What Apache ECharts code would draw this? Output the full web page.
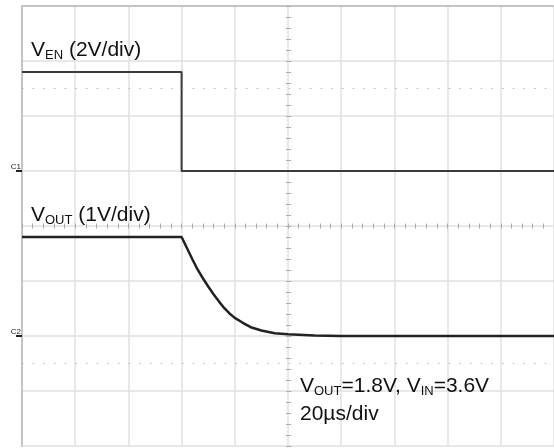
<!DOCTYPE html>
<html>
<head>
<meta charset="utf-8">
<script src="https://cdn.jsdelivr.net/npm/echarts@6/dist/echarts.min.js"></script>
<style>
  html, body { margin: 0; padding: 0; background: #fff; }
  #main { width: 554px; height: 448px; }
</style>
</head>
<body>
<div id="main"></div>
<script>
// time in us (20us/div), 10 divisions
const timeMin = 0
const timeMax = 200
const timeStep = 20

// VEN trace (channel 1, 2V/div)
const venTime = [0, 60, 60, 200]
const venVolt = [3.6, 3.6, 0, 0]

// VOUT trace (channel 2, 1V/div)
const voutTime = [0, 60, 62, 64, 66, 68, 70, 72, 74, 76, 78, 80, 83, 86, 90, 95, 100, 110, 120, 200]
const voutVolt = [1.8, 1.8, 1.6, 1.4, 1.21, 1.05, 0.9, 0.76, 0.63, 0.51, 0.41, 0.33, 0.24, 0.16, 0.1, 0.05, 0.03, 0.01, 0, 0]

// channel scales: C1 ground at 5 div from bottom, C2 ground at 2 div
const ch1Min = -10, ch1Max = 6, ch1Step = 2
const ch2Min = -2, ch2Max = 6, ch2Step = 1

// dotted reference rows (in C1 volts)
const dottedRows = [3, -7]
// channel markers (in C1 volts)
const markerValues = [0, -6]
const markerNames = ['C1', 'C2']

let myChart = echarts.init(document.getElementById('main'), null, { renderer: 'canvas' })

const gridColor = '#e0e0e0'
const tickColor = '#a8a8a8'

function pairs (xs, ys) {
  return xs.map(function (x, i) { return [x, ys[i]] })
}

function tickAxisX (inside) {
  return {
    type: 'value', min: timeMin, max: timeMax, interval: timeStep,
    position: 'bottom', offset: -220,
    axisLine: { show: false, onZero: false },
    axisTick: { show: true, inside: inside, length: 2.5, lineStyle: { color: tickColor, width: 1 } },
    minorTick: { show: true, splitNumber: 5, length: 2.5, lineStyle: { color: tickColor, width: 1 } },
    axisLabel: { show: false },
    splitLine: { show: false }
  }
}

function tickAxisY (inside) {
  return {
    type: 'value', min: ch1Min, max: ch1Max, interval: ch1Step,
    position: 'left', offset: -266.67,
    axisLine: { show: false, onZero: false },
    axisTick: { show: true, inside: inside, length: 2.5, lineStyle: { color: tickColor, width: 1 } },
    minorTick: { show: true, splitNumber: 5, length: 2.5, lineStyle: { color: tickColor, width: 1 } },
    axisLabel: { show: false },
    splitLine: { show: false }
  }
}

const fontFam = 'Liberation Sans, Arial, sans-serif'
const textRich = {
  v: { fontFamily: fontFam, fontSize: 21, fontWeight: 'normal', lineHeight: 24, color: '#111' },
  s: { fontFamily: fontFam, fontSize: 13, fontWeight: 'normal', lineHeight: 18, color: '#111', verticalAlign: 'bottom' }
}

let option = {
  animation: false,
  backgroundColor: '#fff',
  title: [
    {
      left: 31, top: 38, padding: 0,
      text: '{v|V}{s|EN}{v| (2V/div)}',
      textStyle: { fontWeight: 'normal', rich: textRich }
    },
    {
      left: 31, top: 203, padding: 0,
      text: '{v|V}{s|OUT}{v| (1V/div)}',
      textStyle: { fontWeight: 'normal', rich: textRich }
    },
    {
      left: 300, top: 374, padding: 0,
      text: '{v|V}{s|OUT}{v|=1.8V, V}{s|IN}{v|=3.6V}',
      textStyle: { fontWeight: 'normal', rich: textRich }
    },
    {
      left: 300, top: 402, padding: 0,
      text: '{v|20µs/div}',
      textStyle: { fontWeight: 'normal', rich: textRich }
    }
  ],
  grid: {
    left: 22,
    top: 6,
    right: -1,
    bottom: 2
  },
  xAxis: [
    {
      type: 'value', min: timeMin, max: timeMax, interval: timeStep,
      position: 'top',
      axisLine: { show: true, onZero: false, lineStyle: { color: '#c4c4c4', width: 2 } },
      axisTick: { show: false },
      axisLabel: { show: false },
      splitLine: { show: true, lineStyle: { color: gridColor, width: 1.5 } }
    },
    tickAxisX(false),
    tickAxisX(true)
  ],
  yAxis: [
    {
      type: 'value', min: ch1Min, max: ch1Max, interval: ch1Step,
      position: 'left',
      axisLine: { show: true, onZero: false, lineStyle: { color: '#c4c4c4', width: 2 } },
      axisTick: { show: false },
      axisLabel: { show: false },
      splitLine: { show: true, lineStyle: { color: gridColor, width: 1.5 } }
    },
    {
      type: 'value', min: ch2Min, max: ch2Max, interval: ch2Step,
      show: false
    },
    tickAxisY(false),
    tickAxisY(true),
    {
      // channel ground markers
      type: 'value', min: ch1Min, max: ch1Max, interval: ch1Step,
      position: 'left',
      axisLine: { show: false, onZero: false },
      axisTick: { show: true, customValues: markerValues, length: 6, lineStyle: { color: '#222', width: 2 } },
      axisLabel: {
        show: true, customValues: markerValues, margin: 1,
        fontSize: 8, color: '#222', verticalAlign: 'bottom',
        formatter: function (val) {
          let i = markerValues.indexOf(val)
          return i >= 0 ? markerNames[i] : ''
        }
      },
      splitLine: { show: false }
    }
  ],
  series: [
    {
      name: 'VEN',
      type: 'line',
      xAxisIndex: 0,
      yAxisIndex: 0,
      showSymbol: false,
      data: pairs(venTime, venVolt),
      lineStyle: { color: '#3a3a3a', width: 2 },
      markLine: {
        silent: true,
        symbol: 'none',
        label: { show: false },
        lineStyle: { type: [1.5, 9.17], color: '#b8b8b8', width: 1 },
        data: dottedRows.map(function (v) { return { yAxis: v } })
      }
    },
    {
      name: 'VOUT',
      type: 'line',
      xAxisIndex: 0,
      yAxisIndex: 1,
      showSymbol: false,
      data: pairs(voutTime, voutVolt),
      lineStyle: { color: '#222', width: 2.5 }
    }
  ]
}
myChart.setOption(option, true)
</script>
</body>
</html>
